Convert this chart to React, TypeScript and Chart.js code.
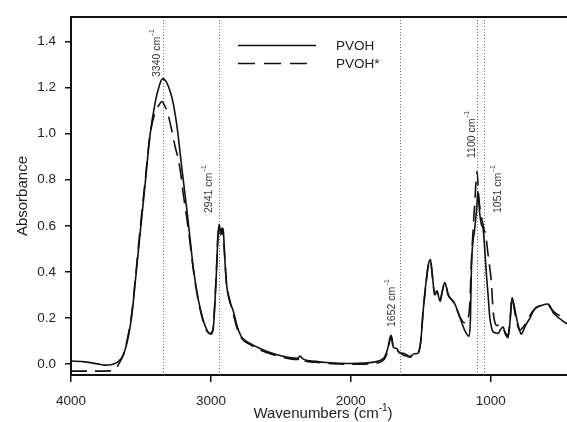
import React, { useEffect, useRef } from "react";
import { Chart, registerables } from "chart.js";

Chart.register(...registerables);

// PVOH (solid) — wavenumber (cm-1) / absorbance
const pvohX = [4000, 3900, 3800, 3760, 3700, 3660, 3630, 3614, 3590, 3567, 3540, 3507, 3471, 3436, 3400, 3370, 3345, 3320, 3290, 3269, 3240, 3221, 3198, 3174, 3150, 3126, 3090, 3055, 3030, 3007, 2985, 2970, 2959, 2950, 2941, 2930, 2920, 2912, 2900, 2888, 2870, 2841, 2810, 2781, 2720, 2650, 2550, 2450, 2380, 2364, 2340, 2250, 2174, 2007, 1900, 1817, 1780, 1757, 1735, 1714, 1705, 1697, 1674, 1650, 1626, 1600, 1579, 1545, 1519, 1500, 1483, 1460, 1443, 1431, 1420, 1400, 1384, 1364, 1345, 1329, 1315, 1305, 1280, 1257, 1221, 1186, 1155, 1145, 1138, 1114, 1100, 1092, 1080, 1066, 1055, 1043, 1031, 1019, 1007, 995, 983, 960, 948, 930, 912, 895, 876, 860, 848, 835, 817, 800, 781, 765, 745, 720, 686, 660, 638, 610, 590, 570, 555, 530, 507, 480, 455];
const pvohY = [0.014, 0.01, 0.0, -0.004, 0.0, 0.012, 0.035, 0.061, 0.12, 0.204, 0.36, 0.562, 0.775, 0.989, 1.13, 1.205, 1.238, 1.225, 1.18, 1.13, 1.02, 0.92, 0.8, 0.68, 0.55, 0.418, 0.28, 0.19, 0.15, 0.133, 0.15, 0.28, 0.42, 0.55, 0.606, 0.57, 0.59, 0.582, 0.45, 0.347, 0.28, 0.232, 0.16, 0.118, 0.09, 0.068, 0.045, 0.03, 0.025, 0.035, 0.022, 0.012, 0.007, 0.003, 0.005, 0.011, 0.02, 0.033, 0.07, 0.125, 0.11, 0.075, 0.068, 0.047, 0.047, 0.04, 0.033, 0.045, 0.047, 0.1, 0.232, 0.37, 0.44, 0.454, 0.4, 0.304, 0.318, 0.275, 0.32, 0.354, 0.33, 0.304, 0.28, 0.261, 0.204, 0.147, 0.121, 0.2, 0.418, 0.589, 0.68, 0.75, 0.66, 0.604, 0.589, 0.5, 0.39, 0.3, 0.204, 0.16, 0.14, 0.135, 0.133, 0.15, 0.161, 0.13, 0.115, 0.2, 0.289, 0.26, 0.204, 0.16, 0.13, 0.15, 0.175, 0.2, 0.24, 0.25, 0.254, 0.26, 0.261, 0.245, 0.225, 0.21, 0.197, 0.185, 0.175];

// PVOH* (dashed)
const pvohStarX = [4000, 3850, 3720, 3680, 3650, 3630, 3614, 3590, 3567, 3540, 3507, 3471, 3436, 3400, 3370, 3352, 3330, 3310, 3281, 3257, 3233, 3210, 3198, 3174, 3150, 3126, 3090, 3055, 3030, 3000, 2985, 2970, 2959, 2950, 2941, 2930, 2920, 2905, 2890, 2864, 2841, 2810, 2781, 2720, 2650, 2550, 2450, 2380, 2360, 2340, 2250, 2174, 2007, 1900, 1817, 1780, 1757, 1735, 1714, 1705, 1697, 1674, 1650, 1626, 1600, 1579, 1545, 1519, 1500, 1483, 1460, 1443, 1431, 1420, 1400, 1384, 1364, 1345, 1329, 1315, 1305, 1280, 1257, 1221, 1190, 1179, 1165, 1150, 1138, 1114, 1098, 1085, 1070, 1060, 1050, 1036, 1020, 1007, 995, 983, 970, 960, 940, 924, 900, 876, 860, 848, 835, 817, 793, 770, 745, 720, 698, 660, 638, 610, 590, 570, 543, 520, 495, 455];
const pvohStarY = [-0.03, -0.03, -0.029, -0.02, 0.01, 0.035, 0.065, 0.13, 0.215, 0.37, 0.58, 0.79, 0.99, 1.09, 1.125, 1.139, 1.12, 1.09, 1.017, 0.946, 0.889, 0.8, 0.74, 0.64, 0.53, 0.41, 0.275, 0.185, 0.145, 0.13, 0.15, 0.29, 0.43, 0.56, 0.6, 0.56, 0.58, 0.5, 0.36, 0.275, 0.22, 0.15, 0.112, 0.085, 0.062, 0.04, 0.025, 0.02, 0.032, 0.018, 0.008, 0.004, 0.0, 0.0, 0.005, 0.012, 0.025, 0.06, 0.115, 0.1, 0.07, 0.06, 0.05, 0.04, 0.035, 0.03, 0.04, 0.05, 0.1, 0.23, 0.36, 0.44, 0.45, 0.4, 0.3, 0.315, 0.27, 0.32, 0.35, 0.325, 0.3, 0.28, 0.26, 0.205, 0.18, 0.204, 0.2, 0.26, 0.446, 0.703, 0.835, 0.72, 0.65, 0.62, 0.59, 0.56, 0.48, 0.418, 0.35, 0.23, 0.18, 0.168, 0.168, 0.168, 0.14, 0.125, 0.21, 0.289, 0.25, 0.19, 0.147, 0.16, 0.182, 0.21, 0.232, 0.25, 0.255, 0.258, 0.258, 0.24, 0.225, 0.215, 0.207, 0.197];

const xTicks = [4000, 3000, 2000, 1000];
const yTicks = [0, 0.2, 0.4, 0.6, 0.8, 1.0, 1.2, 1.4];
const markers = [3340, 2941, 1652, 1100, 1051];
const markerLabels = ["3340 cm", "2941 cm", "1652 cm", "1100 cm", "1051 cm"];
const seriesNames = ["PVOH", "PVOH*"];

const FONT = "'Liberation Sans', Arial, Helvetica, sans-serif";

// label placement per marker: [offset of baseline from line (px), text start y (px)]
const labelPlace: [number, number][] = [
  [-3, 77],
  [-7, 213],
  [-5, 327],
  [-2, 158],
  [17, 213],
];

const overlayPlugin = {
  id: "overlay",
  beforeDatasetsDraw(chart: any) {
    const { ctx, chartArea, scales } = chart;
    ctx.save();
    ctx.strokeStyle = "#666";
    ctx.lineWidth = 1;
    ctx.setLineDash([1, 2]);
    markers.forEach((m) => {
      const x = Math.round(scales.x.getPixelForValue(m)) + 0.5;
      ctx.beginPath();
      ctx.moveTo(x, chartArea.top);
      ctx.lineTo(x, chartArea.bottom);
      ctx.stroke();
    });
    ctx.restore();
  },
  afterDraw(chart: any) {
    const { ctx, chartArea, scales } = chart;
    ctx.save();
    // top frame
    ctx.strokeStyle = "#111";
    ctx.lineWidth = 2;
    ctx.beginPath();
    ctx.moveTo(chartArea.left, chartArea.top);
    ctx.lineTo(chartArea.right, chartArea.top);
    ctx.stroke();

    // marker labels (rotated)
    ctx.fillStyle = "#333";
    markers.forEach((m, i) => {
      const x = scales.x.getPixelForValue(m) + labelPlace[i][0];
      const y = labelPlace[i][1];
      ctx.save();
      ctx.translate(x, y);
      ctx.rotate(-Math.PI / 2);
      ctx.font = `10.5px ${FONT}`;
      ctx.textBaseline = "alphabetic";
      ctx.textAlign = "left";
      ctx.fillText(markerLabels[i], 0, 0);
      const w = ctx.measureText(markerLabels[i]).width;
      ctx.font = `7.5px ${FONT}`;
      ctx.fillText("-1", w + 1, -6);
      ctx.restore();
    });

    // legend
    ctx.strokeStyle = "#111";
    ctx.lineWidth = 1.4;
    ctx.setLineDash([]);
    ctx.beginPath();
    ctx.moveTo(238, 45.5);
    ctx.lineTo(316, 45.5);
    ctx.stroke();
    ctx.setLineDash([17, 9]);
    ctx.beginPath();
    ctx.moveTo(238, 63.5);
    ctx.lineTo(309, 63.5);
    ctx.stroke();
    ctx.setLineDash([]);
    ctx.fillStyle = "#222";
    ctx.font = `13.5px ${FONT}`;
    ctx.textBaseline = "middle";
    ctx.textAlign = "left";
    ctx.fillText(seriesNames[0], 336, 46);
    ctx.fillText(seriesNames[1], 336, 64);

    // x axis title with superscript
    const cx = (chartArea.left + chartArea.right) / 2 + 4;
    const baseY = 418;
    const p1 = "Wavenumbers (cm";
    const sup = "-1";
    const p2 = ")";
    ctx.textBaseline = "alphabetic";
    ctx.font = `15px ${FONT}`;
    const w1 = ctx.measureText(p1).width;
    const w3 = ctx.measureText(p2).width;
    ctx.font = `10px ${FONT}`;
    const w2 = ctx.measureText(sup).width;
    const total = w1 + w2 + w3;
    const sx = cx - total / 2;
    ctx.font = `15px ${FONT}`;
    ctx.fillText(p1, sx, baseY);
    ctx.font = `10px ${FONT}`;
    ctx.fillText(sup, sx + w1, baseY - 7);
    ctx.font = `15px ${FONT}`;
    ctx.fillText(p2, sx + w1 + w2, baseY);
    ctx.restore();
  },
};

export default function App() {
  const ref = useRef<HTMLCanvasElement | null>(null);
  useEffect(() => {
    if (!ref.current) return;
    const chart = new Chart(ref.current, {
      type: "line",
      data: {
        datasets: [
          {
            label: seriesNames[0],
            data: pvohX.map((x, i) => ({ x, y: pvohY[i] })),
            borderColor: "#111",
            borderWidth: 1.6,
            pointRadius: 0,
            cubicInterpolationMode: "monotone",
            fill: false,
          },
          {
            label: seriesNames[1],
            data: pvohStarX.map((x, i) => ({ x, y: pvohStarY[i] })),
            borderColor: "#111",
            borderWidth: 1.6,
            borderDash: [16, 8],
            pointRadius: 0,
            cubicInterpolationMode: "monotone",
            fill: false,
          },
        ],
      },
      options: {
        responsive: false,
        animation: false,
        layout: { padding: { top: 13, right: 0, left: 0, bottom: 0 } },
        plugins: { legend: { display: false }, tooltip: { enabled: false } },
        scales: {
          x: {
            type: "linear",
            reverse: true,
            min: 455,
            max: 4000,
            afterBuildTicks: (scale: any) => {
              scale.ticks = xTicks.map((v) => ({ value: v }));
            },
            afterFit: (scale: any) => {
              scale.height = 47;
            },
            grid: { display: true, drawOnChartArea: false, drawTicks: true, tickLength: 7, color: "#111", lineWidth: 1.5 },
            border: { display: true, color: "#111", width: 2 },
            ticks: {
              color: "#222",
              font: { family: FONT, size: 13.5 },
              padding: 11,
              maxRotation: 0,
              callback: (v: any) => String(v),
            },
          },
          y: {
            type: "linear",
            min: -0.047,
            max: 1.505,
            afterBuildTicks: (scale: any) => {
              scale.ticks = yTicks.map((v) => ({ value: v }));
            },
            afterFit: (scale: any) => {
              scale.width = 71;
            },
            grid: { display: true, drawOnChartArea: false, drawTicks: true, tickLength: 6, color: "#111", lineWidth: 1.5 },
            border: { display: true, color: "#111", width: 2 },
            ticks: {
              color: "#222",
              font: { family: FONT, size: 13.5 },
              padding: 9,
              callback: (v: any) => Number(v).toFixed(1),
            },
            title: {
              display: true,
              text: "Absorbance",
              color: "#222",
              font: { family: FONT, size: 15 },
              padding: { top: 14, bottom: 0 },
            },
          },
        },
      },
      plugins: [overlayPlugin],
    });
    return () => chart.destroy();
  }, []);
  return (
    <div style={{ position: "fixed", left: 0, top: 0, width: 567, height: 422, background: "#fff" }}>
      <canvas ref={ref} width={567} height={422} style={{ display: "block" }} />
    </div>
  );
}
